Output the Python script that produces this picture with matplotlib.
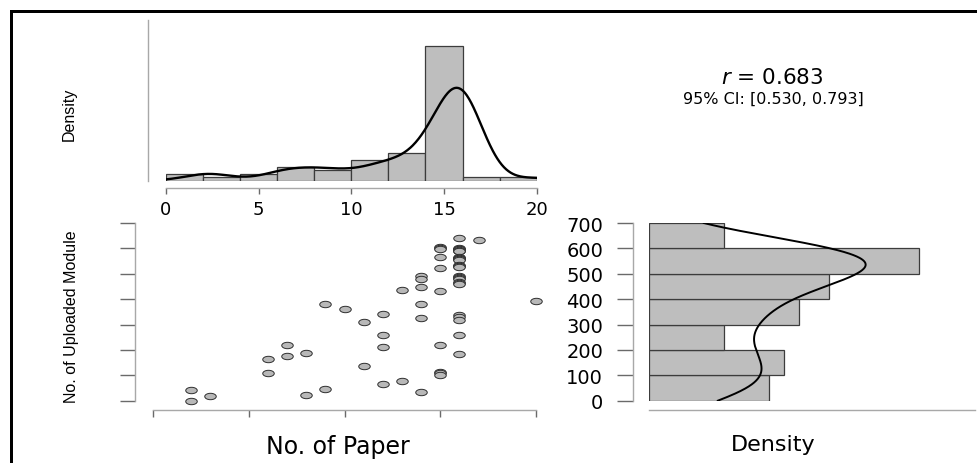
import numpy as np
import matplotlib
matplotlib.use("Agg")
import matplotlib.pyplot as plt
from matplotlib.path import Path
from matplotlib.transforms import Affine2D
from matplotlib.lines import Line2D

# ---------------- data ----------------
papers_low = [2, 2, 3, 6, 6, 7, 7, 8, 8, 9, 9, 10, 11, 11, 12, 12, 12, 12,
              13, 13, 14, 14, 14, 14, 14, 14, 17, 20]
modules_low = [43, 0, 20, 163, 110, 221, 175, 189, 24, 381, 47, 362, 311, 135,
               341, 260, 213, 66, 435, 76, 490, 480, 448, 382, 327, 36, 632, 394]
modules_p15 = [604, 601, 598, 566, 523, 431, 221, 114, 108, 103]
modules_p16 = [640, 603, 598, 596, 594, 590, 588, 566, 564, 562, 560, 558, 556,
               535, 532, 530, 528, 493, 488, 483, 478, 469, 464, 459, 336, 328,
               319, 260, 184]

paper = np.array(papers_low + [15] * len(modules_p15) + [16] * len(modules_p16), float)
module = np.array(modules_low + modules_p15 + modules_p16, float)

x_breaks = np.arange(0, 21, 2)
y_breaks = np.arange(0, 701, 100)
x_ticks = [0, 5, 10, 15, 20]
y_ticks = [0, 100, 200, 300, 400, 500, 600, 700]
r_text = "$r$ = 0.683"
ci_text = "95% CI: [0.530, 0.793]"

W, H = 978, 464


def box(x0, y0, x1, y1):
    return [x0 / W, 1 - y1 / H, (x1 - x0) / W, (y1 - y0) / H]


def right_closed_hist(v, edges):
    return np.histogram(-v, bins=-edges[::-1])[0][::-1]


def bw_nrd0(v):
    sd = np.std(v, ddof=1)
    q75, q25 = np.percentile(v, [75, 25])
    lo = min(sd, (q75 - q25) / 1.34)
    return 0.9 * lo * len(v) ** -0.2


def kde(v, grid):
    bw = bw_nrd0(v)
    z = (grid[:, None] - v[None, :]) / bw
    return np.exp(-0.5 * z ** 2).sum(axis=1) / (len(v) * bw * np.sqrt(2 * np.pi))


BAR_FC = "#bebebe"
BAR_EC = "#3c3c3c"
SPINE_C = "#a8a8a8"
TICK_C = "#6a6a6a"
PX = 72 / 100  # points per pixel

narrow = ["Liberation Sans"]
wide = ["DejaVu Sans"]

fig = plt.figure(figsize=(W / 100, H / 100), dpi=100)


def style_axes(ax):
    for s in ["top", "right"]:
        ax.spines[s].set_visible(False)
    for s in ["left", "bottom"]:
        ax.spines[s].set_color(SPINE_C)
        ax.spines[s].set_linewidth(1.0)
    ax.tick_params(colors=TICK_C, labelcolor="black", width=1.0)
    ax.patch.set_alpha(0)


# ---------------- top histogram ----------------
ax1 = fig.add_axes(box(166, 20.7, 536.7, 181.5))
style_axes(ax1)
n = len(paper)
cx = right_closed_hist(paper, x_breaks)
dx = cx / (n * np.diff(x_breaks))
ax1.bar(x_breaks[:-1], dx, width=np.diff(x_breaks), align="edge",
        facecolor=BAR_FC, edgecolor=BAR_EC, linewidth=0.9)
gx = np.linspace(0, 20, 500)
ax1.plot(gx, kde(paper, gx), color="black", lw=1.7)
ax1.set_xlim(0, 20)
ax1.set_ylim(0, dx.max() * 160.8 / 134.2)
ax1.spines["left"].set_position(("outward", 18.3 * PX))
ax1.spines["bottom"].set_position(("outward", 7.8 * PX))
ax1.set_yticks([])
ax1.set_xticks(x_ticks)
ax1.set_xticklabels([str(t) for t in x_ticks], fontsize=13, family=wide)
ax1.tick_params(axis="x", direction="out", length=6 * PX, pad=4)
ax1.set_ylabel("Density", fontsize=11.5, family=narrow)
ax1.yaxis.set_label_coords(-0.241, 0.42)

# ---------------- scatter ----------------
ax2 = fig.add_axes(box(153, 224, 536, 401.7))
style_axes(ax2)
ell = Path.unit_circle().transformed(Affine2D().scale(1.8, 1.0))
ax2.plot(paper, module, linestyle="none", marker=ell, markersize=11.5 * PX,
         markerfacecolor="#b8b8b8", markeredgecolor="#2e2e2e",
         markeredgewidth=0.7, clip_on=False)
ax2.set_xlim(0, 20)
ax2.set_ylim(0, 700)
ax2.spines["left"].set_position(("outward", 18 * PX))
ax2.spines["bottom"].set_position(("outward", 9 * PX))
ax2.set_xticks(x_ticks)
ax2.set_yticks(y_ticks)
ax2.set_xticklabels([])
ax2.set_yticklabels([])
ax2.tick_params(axis="y", direction="out", length=15 * PX)
ax2.tick_params(axis="x", direction="out", length=6.6 * PX)
ax2.set_xlabel("No. of Paper", fontsize=17, family=wide)
ax2.xaxis.set_label_coords(0.483, -0.185)
ax2.set_ylabel("No. of Uploaded Module", fontsize=11.5, family=narrow)
ax2.yaxis.set_label_coords(-0.193, 0.478)

# ---------------- right histogram ----------------
ax3 = fig.add_axes(box(649, 224, 975, 401.7))
style_axes(ax3)
cy = right_closed_hist(module, y_breaks)
dy = cy / (n * np.diff(y_breaks))
ax3.barh(y_breaks[:-1], dy, height=np.diff(y_breaks), align="edge",
         facecolor=BAR_FC, edgecolor=BAR_EC, linewidth=0.9)
gy = np.linspace(0, 700, 500)
ax3.plot(kde(module, gy), gy, color="black", lw=1.4)
ax3.set_ylim(0, 700)
ax3.set_xlim(0, dy.max() * 326 / 270)
ax3.spines["left"].set_position(("outward", 16 * PX))
ax3.spines["bottom"].set_position(("outward", 9 * PX))
ax3.set_xticks([])
ax3.set_yticks(y_ticks)
ax3.set_yticklabels([str(t) for t in y_ticks], fontsize=14, family=wide)
ax3.tick_params(axis="y", direction="out", length=16 * PX, pad=10)
ax3.set_xlabel("Density", fontsize=16, family=wide)
ax3.xaxis.set_label_coords(0.38, -0.185)

# ---------------- correlation text ----------------
fig.text(772 / W, 1 - 78 / H, r_text, ha="center", va="center", fontsize=15.5,
         family=wide)
fig.text(773 / W, 1 - 99 / H, ci_text, ha="center", va="center", fontsize=11.5,
         family=wide)

# ---------------- frame ----------------
fig.add_artist(Line2D([10.8 / W, 10.8 / W, 1.0], [0.0, 1 - 12.2 / H, 1 - 12.2 / H],
                      transform=fig.transFigure, color="black", lw=3 * PX,
                      solid_joinstyle="miter"))

fig.savefig("out.png", dpi=100)
